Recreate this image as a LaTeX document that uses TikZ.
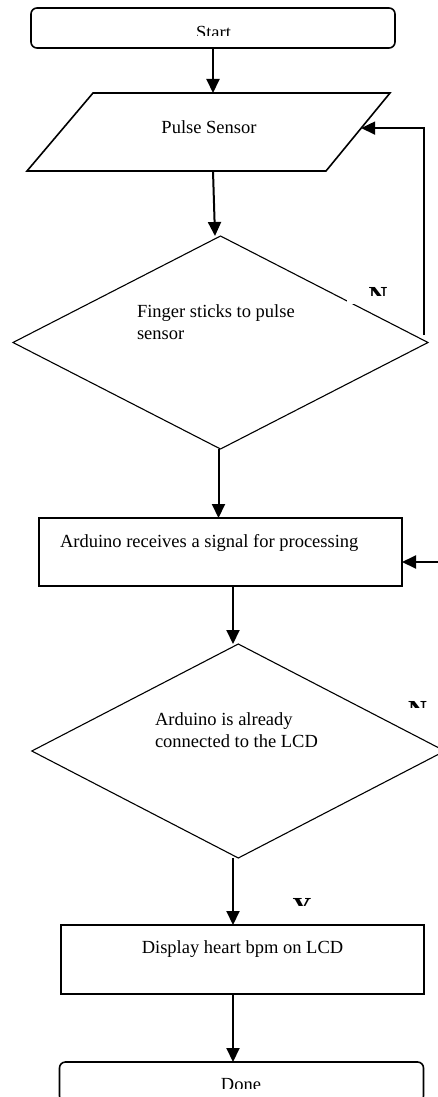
\documentclass[tikz,border=0pt]{standalone}
\usepackage{fontspec}
\setmainfont{Liberation Serif}
\usetikzlibrary{shapes.geometric,arrows.meta}
\begin{document}
\begin{tikzpicture}[x=1pt,y=-1pt,
  flow/.style={line width=2pt,-{Triangle[length=14pt,width=13pt]}},
  term/.style={draw,line width=1.6pt,rounded corners=6pt,minimum width=364pt,minimum height=40pt,inner sep=0pt,outer sep=0pt},
  procbox/.style={draw,line width=1.6pt,minimum width=363pt,inner sep=0pt,outer sep=0pt},
  decision/.style={draw,diamond,line width=1.1pt,inner sep=0pt,outer sep=0pt},
  lbl/.style={font=\fontsize{18.5}{22}\selectfont,inner sep=0pt,outer sep=0pt},
  branch/.style={font=\fontsize{26}{30}\selectfont\bfseries,inner sep=0pt,outer sep=0pt}]
\useasboundingbox (0,0) rectangle (437,1097);

% shapes
\node[term] (start) at (213,28) {};
\coordinate (pTL) at (93,93);
\coordinate (pTR) at (390,93);
\coordinate (pBR) at (326,171);
\coordinate (pBL) at (27,171);
\draw[line width=1.6pt,line join=miter] (pTL) -- (pTR) -- (pBR) -- (pBL) -- cycle;
\node[decision,minimum width=415pt,minimum height=213pt] (d1) at (220.5,342.5) {};
\node[procbox,minimum height=68pt] (ard) at (220.5,552) {};
\node[decision,minimum width=413pt,minimum height=214pt] (d2) at (238.3,751) {};
\node[procbox,minimum height=69pt] (disp) at (242.5,959.5) {};
\node[term] (done) at (241.5,1082) {};

% texts
\begin{scope}
  \clip (31,8) rectangle (395,36);
  \node[lbl,anchor=base] (tstart) at (213.5,39) {Start};
\end{scope}
\node[lbl,anchor=base] (tps) at (209,134) {Pulse Sensor};
\node[lbl,anchor=base west,align=left] (td1) at (137,339) {Finger sticks to pulse\\sensor};
\node[lbl,anchor=base west] (tard) at (60,547) {Arduino receives a signal for processing};
\node[lbl,anchor=base west,align=left] (td2) at (155,747) {Arduino is already\\connected to the LCD};
\node[lbl,anchor=base] (tdisp) at (242.5,953) {Display heart bpm on LCD};
\begin{scope}
  \clip (60,1062) rectangle (423,1088);
  \node[lbl,anchor=base] (tdone) at (241,1090) {Done};
\end{scope}

% branch labels (clipped as in the original)
\fill[white] (347,281) rectangle (400,303.5);
\begin{scope}
  \clip (350,281) rectangle (400,295);
  \node[branch,anchor=base] (n1) at (378,304) {N};
\end{scope}
\begin{scope}
  \clip (395,695) rectangle (437,707);
  \node[branch,anchor=base] (n2) at (417.5,718) {N};
\end{scope}
\begin{scope}
  \clip (285,890) rectangle (320,905);
  \node[branch,anchor=base] (ylab) at (302,915) {Y};
\end{scope}

% connectors
\coordinate (colx) at (233,0);
\coordinate (psin) at (213,93);
\coordinate (psout) at (213,171);
\draw[flow] (start.south) -- (psin);
\draw[flow] (psout) -- ([xshift=2pt]start.south |- d1.north);
\draw[flow] ([xshift=-2pt]d1.south) -- ([xshift=-2pt]d1.south |- ard.north);
\draw[flow] (colx |- ard.south) -- (colx |- d2.north);
\draw[flow] (colx |- d2.south) -- (colx |- disp.north);
\draw[flow] (colx |- disp.south) -- (colx |- done.north);

\path (pTR) -- (pBR) coordinate[pos=0.45] (pe);
\coordinate (fb1) at (424,335);
\draw[flow] (fb1) |- (pe);
\coordinate (fb2) at (445,562);
\draw[flow] (fb2) -- (fb2 -| ard.east);
\end{tikzpicture}
\end{document}
